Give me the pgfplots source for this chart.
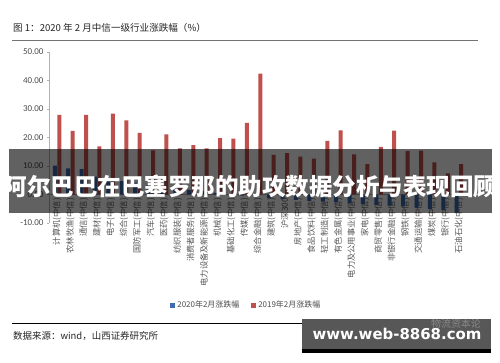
\documentclass[border=0pt]{standalone}
\usepackage{pgfplots}
\pgfplotsset{compat=1.18}
\usepackage{fontspec}
\setmainfont{Carlito}
\newfontfamily\cjk{Noto Sans CJK SC}
\newfontfamily\dvs{DejaVu Sans}
\definecolor{bblue}{HTML}{3F6CB0}
\definecolor{rred}{HTML}{C0504D}
\begin{document}
\begin{tikzpicture}[x=1bp,y=1bp]
\path[use as bounding box] (0,0) rectangle (500,362);
\fill[white] (0,0) rectangle (500,362);
\node[anchor=west, inner sep=0, font=\cjk\fontsize{9.6}{11}\selectfont, text=black!85] at (13,334) {图 1：2020 年 2 月中信一级行业涨跌幅（\%）};
\draw[black!55, line width=1bp] (12,322) -- (478,322);
\begin{axis}[at={(57.04bp,167.5bp)}, anchor=origin, scale only axis,
  width=418bp, height=171bp,
  xmin=-0.6, xmax=30.6, ymin=-10, ymax=50,
  axis x line=middle, axis y line=left,
  axis line style={-, draw=black!30},
  every inner x axis line/.append style={-},
  every outer y axis line/.append style={-},
  ytick={-10,0,10,20,30,40,50},
  /pgf/number format/.cd, fixed, fixed zerofill, precision=2, assume math mode=true,
  /pgfplots/.cd,
  yticklabel style={font=\fontsize{9}{10}\selectfont, text=black!70},
  ytick style={draw=black!30}, major tick length=2bp, tick align=outside,
  xtick={0,...,30}, xtick style={draw=none},
  xticklabels={计算机(中信),农林牧渔(中信),通信(中信),建材(中信),电子(中信),综合(中信),国防军工(中信),汽车(中信),医药(中信),纺织服装(中信),消费者服务(中信),电力设备及新能源(中信),机械(中信),基础化工(中信),传媒(中信),综合金融(中信),建筑(中信),沪深300,房地产(中信),食品饮料(中信),轻工制造(中信),有色金属(中信),电力及公用事业(中信),家电(中信),商贸零售(中信),非银行金融(中信),钢铁(中信),交通运输(中信),煤炭(中信),银行(中信),石油石化(中信)},
  xticklabel style={rotate=90, anchor=east, font=\cjk\fontsize{8.3}{9}\selectfont, text=black!65, inner sep=1.5bp},
  ybar=0.5bp, bar width=4bp,
  legend columns=2,
  legend style={at={(0.472,-0.48)}, anchor=center, draw=none, fill=none,
    font=\cjk\fontsize{8}{9}\selectfont, text=black!70,
    /tikz/every even column/.append style={column sep=10bp}},
]
\addplot[fill=bblue, draw=none, legend image code/.code={\fill[bblue] (0bp,-2.5bp) rectangle (5bp,2.5bp);}] coordinates {
(0,10.1) (1,9.2) (2,8.9) (3,6.3) (4,5.6) (5,4.7) (6,4.1) (7,3.2) (8,2.7) (9,2.1)
(10,1.6) (11,1.2) (12,0.6) (13,0.1) (14,-0.4) (15,-0.9) (16,-1.3) (17,-1.6) (18,-1.9) (19,-2.2)
(20,-2.5) (21,-2.7) (22,-3.0) (23,-3.3) (24,-3.6) (25,-3.9) (26,-4.2) (27,-4.6) (28,-5.0) (29,-5.5) (30,-6.4)};
\addlegendentry{2020年2月涨跌幅}
\addplot[fill=rred, draw=none, legend image code/.code={\fill[rred] (0bp,-2.5bp) rectangle (5bp,2.5bp);}] coordinates {
(0,27.9) (1,22.3) (2,27.9) (3,16.9) (4,28.4) (5,26.0) (6,21.6) (7,15.5) (8,21.1) (9,16.2)
(10,17.3) (11,16.2) (12,19.8) (13,19.6) (14,25.1) (15,42.4) (16,13.9) (17,14.5) (18,13.3) (19,12.6)
(20,18.8) (21,22.5) (22,14.1) (23,10.7) (24,16.7) (25,22.4) (26,15.2) (27,15.4) (28,11.3) (29,7.4) (30,10.7)};
\addlegendentry{2019年2月涨跌幅}
\end{axis}
% banner overlay
\fill[black, opacity=0.62] (9,149) rectangle (492,213);
\node[inner sep=0, font=\cjk\bfseries\fontsize{23.6}{24}\selectfont, text=white] at (250.5,176) {阿尔巴巴在巴塞罗那的助攻数据分析与表现回顾};
% source
\draw[black, line width=0.8bp] (12,39) -- (490,39);
\node[anchor=west, inner sep=0, font=\cjk\fontsize{9.5}{11}\selectfont, text=black!85] at (13,26) {数据来源：wind，山西证券研究所};
% watermark
\fill[black!66] (302,13) rectangle (491,43);
\fill[black] (302,9.3) rectangle (491,13);
\node[inner sep=0, font=\cjk\fontsize{10}{11}\selectfont, text=white, opacity=0.3] at (456,38) {物流资本论};
\node[inner sep=0, font=\dvs\bfseries\fontsize{15}{16}\selectfont, text=white] at (397,28) {www.web-8868.com};
\end{tikzpicture}
\end{document}
